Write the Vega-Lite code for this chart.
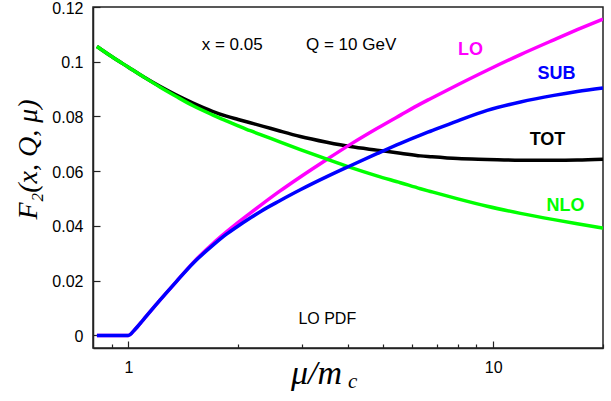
{
  "$schema": "https://vega.github.io/schema/vega-lite/v6.json",
  "width": 510,
  "height": 341,
  "autosize": {"type": "none"},
  "padding": {"left": 93, "top": 7, "right": 8, "bottom": 53},
  "background": "white",
  "config": {
    "view": {"stroke": "#222", "strokeWidth": 1.5},
    "axis": {"grid": false, "domainColor": "#222", "domainWidth": 1.5, "tickColor": "#222", "tickWidth": 1.2, "labelFont": "Liberation Sans", "labelFontSize": 16, "labelColor": "#000"}
  },
  "datasets": {
    "curves": [
      {"series": "TOT", "x": 0.82, "y": 0.1056}, {"series": "TOT", "x": 0.9, "y": 0.1019}, {"series": "TOT", "x": 1.0, "y": 0.098}, {"series": "TOT", "x": 1.1, "y": 0.0945}, {"series": "TOT", "x": 1.22, "y": 0.091}, {"series": "TOT", "x": 1.35, "y": 0.0879}, {"series": "TOT", "x": 1.505, "y": 0.0849}, {"series": "TOT", "x": 1.7, "y": 0.0819}, {"series": "TOT", "x": 1.857, "y": 0.0801}, {"series": "TOT", "x": 2.0, "y": 0.0789}, {"series": "TOT", "x": 2.158, "y": 0.0777}, {"series": "TOT", "x": 2.343, "y": 0.0764}, {"series": "TOT", "x": 2.6, "y": 0.0747}, {"series": "TOT", "x": 2.96, "y": 0.0727}, {"series": "TOT", "x": 3.5, "y": 0.0706}, {"series": "TOT", "x": 4.06, "y": 0.069}, {"series": "TOT", "x": 4.8, "y": 0.0677}, {"series": "TOT", "x": 5.57, "y": 0.0666}, {"series": "TOT", "x": 6.32, "y": 0.0656}, {"series": "TOT", "x": 6.73, "y": 0.0653}, {"series": "TOT", "x": 8.0, "y": 0.0646}, {"series": "TOT", "x": 9.63, "y": 0.0643}, {"series": "TOT", "x": 11.88, "y": 0.064}, {"series": "TOT", "x": 14.67, "y": 0.064}, {"series": "TOT", "x": 17.0, "y": 0.0641}, {"series": "TOT", "x": 20.0, "y": 0.0644},
      {"series": "LO", "x": 0.82, "y": 0}, {"series": "LO", "x": 0.9, "y": 0}, {"series": "LO", "x": 1.0, "y": 0}, {"series": "LO", "x": 1.041, "y": 0.0021}, {"series": "LO", "x": 1.1, "y": 0.0058}, {"series": "LO", "x": 1.219, "y": 0.0128}, {"series": "LO", "x": 1.35, "y": 0.0195}, {"series": "LO", "x": 1.505, "y": 0.0266}, {"series": "LO", "x": 1.7, "y": 0.0334}, {"series": "LO", "x": 1.857, "y": 0.0378}, {"series": "LO", "x": 2.0, "y": 0.0413}, {"series": "LO", "x": 2.158, "y": 0.0447}, {"series": "LO", "x": 2.317, "y": 0.0478}, {"series": "LO", "x": 2.6, "y": 0.0527}, {"series": "LO", "x": 2.96, "y": 0.0579}, {"series": "LO", "x": 3.5, "y": 0.0643}, {"series": "LO", "x": 4.06, "y": 0.0698}, {"series": "LO", "x": 4.8, "y": 0.0756}, {"series": "LO", "x": 5.57, "y": 0.0805}, {"series": "LO", "x": 6.32, "y": 0.0846}, {"series": "LO", "x": 6.73, "y": 0.0865}, {"series": "LO", "x": 8.0, "y": 0.0916}, {"series": "LO", "x": 9.63, "y": 0.0969}, {"series": "LO", "x": 11.88, "y": 0.1026}, {"series": "LO", "x": 14.67, "y": 0.108}, {"series": "LO", "x": 17.0, "y": 0.1117}, {"series": "LO", "x": 20.0, "y": 0.1156},
      {"series": "NLO", "x": 0.82, "y": 0.1056}, {"series": "NLO", "x": 0.9, "y": 0.1019}, {"series": "NLO", "x": 1.0, "y": 0.098}, {"series": "NLO", "x": 1.1, "y": 0.0945}, {"series": "NLO", "x": 1.22, "y": 0.0908}, {"series": "NLO", "x": 1.35, "y": 0.0874}, {"series": "NLO", "x": 1.505, "y": 0.0839}, {"series": "NLO", "x": 1.7, "y": 0.0806}, {"series": "NLO", "x": 1.857, "y": 0.0784}, {"series": "NLO", "x": 2.0, "y": 0.0766}, {"series": "NLO", "x": 2.158, "y": 0.0748}, {"series": "NLO", "x": 2.343, "y": 0.073}, {"series": "NLO", "x": 2.6, "y": 0.0707}, {"series": "NLO", "x": 2.96, "y": 0.0679}, {"series": "NLO", "x": 3.5, "y": 0.0644}, {"series": "NLO", "x": 4.06, "y": 0.0614}, {"series": "NLO", "x": 4.8, "y": 0.0583}, {"series": "NLO", "x": 5.57, "y": 0.0558}, {"series": "NLO", "x": 6.32, "y": 0.0536}, {"series": "NLO", "x": 6.73, "y": 0.0526}, {"series": "NLO", "x": 8.0, "y": 0.0499}, {"series": "NLO", "x": 9.63, "y": 0.0472}, {"series": "NLO", "x": 11.88, "y": 0.0446}, {"series": "NLO", "x": 14.67, "y": 0.0423}, {"series": "NLO", "x": 17.0, "y": 0.0408}, {"series": "NLO", "x": 20.0, "y": 0.0392},
      {"series": "SUB", "x": 0.82, "y": 0}, {"series": "SUB", "x": 0.9, "y": 0}, {"series": "SUB", "x": 1.0, "y": 0}, {"series": "SUB", "x": 1.041, "y": 0.0021}, {"series": "SUB", "x": 1.1, "y": 0.0058}, {"series": "SUB", "x": 1.219, "y": 0.0128}, {"series": "SUB", "x": 1.35, "y": 0.0195}, {"series": "SUB", "x": 1.505, "y": 0.0264}, {"series": "SUB", "x": 1.7, "y": 0.0328}, {"series": "SUB", "x": 1.857, "y": 0.037}, {"series": "SUB", "x": 2.0, "y": 0.04}, {"series": "SUB", "x": 2.158, "y": 0.0429}, {"series": "SUB", "x": 2.317, "y": 0.0455}, {"series": "SUB", "x": 2.6, "y": 0.0492}, {"series": "SUB", "x": 2.96, "y": 0.0532}, {"series": "SUB", "x": 3.5, "y": 0.058}, {"series": "SUB", "x": 4.06, "y": 0.062}, {"series": "SUB", "x": 4.8, "y": 0.0664}, {"series": "SUB", "x": 5.57, "y": 0.0702}, {"series": "SUB", "x": 6.32, "y": 0.0732}, {"series": "SUB", "x": 6.73, "y": 0.0746}, {"series": "SUB", "x": 8.0, "y": 0.0784}, {"series": "SUB", "x": 9.63, "y": 0.0822}, {"series": "SUB", "x": 11.88, "y": 0.0853}, {"series": "SUB", "x": 14.67, "y": 0.0877}, {"series": "SUB", "x": 17.0, "y": 0.0891}, {"series": "SUB", "x": 20.0, "y": 0.0904}
    ],
    "labels": [
      {"series": "LO", "x": 8.66, "y": 0.1044, "text": "LO"},
      {"series": "SUB", "x": 14.92, "y": 0.0956, "text": "SUB"},
      {"series": "TOT", "x": 14.09, "y": 0.0715, "text": "TOT"},
      {"series": "NLO", "x": 15.79, "y": 0.0474, "text": "NLO"}
    ],
    "notes": [
      {"x": 1.926, "y": 0.1062, "text": "x = 0.05"},
      {"x": 4.08, "y": 0.1062, "text": "Q = 10 GeV"}
    ],
    "pdf": [{"x": 3.51, "y": 0.0061, "text": "LO PDF"}],
    "sub": [{"x": 4.12, "y": -0.0191, "text": "c"}]
  },
  "resolve": {"axis": {"x": "independent"}},
  "layer": [
    {
      "data": {"name": "curves"},
      "transform": [{"filter": "datum.series === 'TOT'"}],
      "mark": {"type": "line", "strokeWidth": 3.5, "clip": true, "interpolate": "monotone"},
      "encoding": {
        "x": {"field": "x", "type": "quantitative", "scale": {"type": "log", "domain": [0.8, 20], "nice": false},
          "axis": {"orient": "bottom", "values": [1, 10], "format": "~g", "tickSize": -7, "labelPadding": 18, "title": "μ/m", "titleFont": "Liberation Serif", "titleFontStyle": "italic", "titleFontWeight": "normal", "titleFontSize": 34, "titleX": 223, "titleY": 35, "titleAlign": "center", "titleBaseline": "alphabetic"}},
        "y": {"field": "y", "type": "quantitative", "scale": {"domain": [-0.0046, 0.12], "nice": false, "zero": false},
          "axis": {"values": [0, 0.02, 0.04, 0.06, 0.08, 0.1, 0.12], "format": ".2~f", "tickSize": -7, "labelPadding": 17, "labelOffset": 1, "title": "F₂(x, Q, μ)", "titleFont": "Liberation Serif", "titleFontStyle": "italic", "titleFontWeight": "normal", "titleFontSize": 28, "titleAngle": -90, "titleX": -65, "titleY": 152, "titleAlign": "center", "titleBaseline": "middle"}},
        "color": {"field": "series", "type": "nominal", "scale": {"domain": ["LO", "SUB", "TOT", "NLO"], "range": ["#ff00ff", "#0000ff", "#000000", "#00ff00"]}, "legend": null}
      }
    },
    {
      "data": {"name": "curves"},
      "transform": [{"filter": "datum.series === 'LO'"}],
      "mark": {"type": "line", "strokeWidth": 3.5, "clip": true, "interpolate": "monotone"},
      "encoding": {
        "x": {"field": "x", "type": "quantitative", "scale": {"type": "log", "domain": [0.8, 20], "nice": false},
          "axis": {"orient": "bottom", "values": [0.9, 2, 3, 4, 5, 6, 7, 8, 9, 20], "labels": false, "domain": false, "tickSize": -4, "title": null}},
        "y": {"field": "y", "type": "quantitative"},
        "color": {"field": "series", "type": "nominal", "legend": null}
      }
    },
    {
      "data": {"name": "curves"},
      "transform": [{"filter": "datum.series === 'NLO'"}],
      "mark": {"type": "line", "strokeWidth": 3.5, "clip": true, "interpolate": "monotone"},
      "encoding": {
        "x": {"field": "x", "type": "quantitative", "axis": null},
        "y": {"field": "y", "type": "quantitative"},
        "color": {"field": "series", "type": "nominal", "legend": null}
      }
    },
    {
      "data": {"name": "curves"},
      "transform": [{"filter": "datum.series === 'SUB'"}],
      "mark": {"type": "line", "strokeWidth": 3.5, "clip": true, "interpolate": "monotone"},
      "encoding": {
        "x": {"field": "x", "type": "quantitative", "axis": null},
        "y": {"field": "y", "type": "quantitative"},
        "color": {"field": "series", "type": "nominal", "legend": null}
      }
    },
    {
      "data": {"name": "labels"},
      "mark": {"type": "text", "font": "Liberation Sans", "fontWeight": "bold", "fontSize": 18, "align": "center", "baseline": "middle"},
      "encoding": {
        "x": {"field": "x", "type": "quantitative", "axis": null},
        "y": {"field": "y", "type": "quantitative"},
        "text": {"field": "text"},
        "color": {"field": "series", "type": "nominal", "legend": null}
      }
    },
    {
      "data": {"name": "notes"},
      "mark": {"type": "text", "font": "Liberation Sans", "fontSize": 17, "align": "center", "baseline": "middle", "color": "#000"},
      "encoding": {
        "x": {"field": "x", "type": "quantitative", "axis": null},
        "y": {"field": "y", "type": "quantitative"},
        "text": {"field": "text"}
      }
    },
    {
      "data": {"name": "pdf"},
      "mark": {"type": "text", "font": "Liberation Sans", "fontSize": 16, "align": "center", "baseline": "middle", "color": "#000"},
      "encoding": {
        "x": {"field": "x", "type": "quantitative", "axis": null},
        "y": {"field": "y", "type": "quantitative"},
        "text": {"field": "text"}
      }
    },
    {
      "data": {"name": "sub"},
      "mark": {"type": "text", "font": "Liberation Serif", "fontStyle": "italic", "fontSize": 21, "align": "center", "baseline": "alphabetic", "color": "#000", "clip": false},
      "encoding": {
        "x": {"field": "x", "type": "quantitative", "axis": null},
        "y": {"field": "y", "type": "quantitative"},
        "text": {"field": "text"}
      }
    }
  ]
}
